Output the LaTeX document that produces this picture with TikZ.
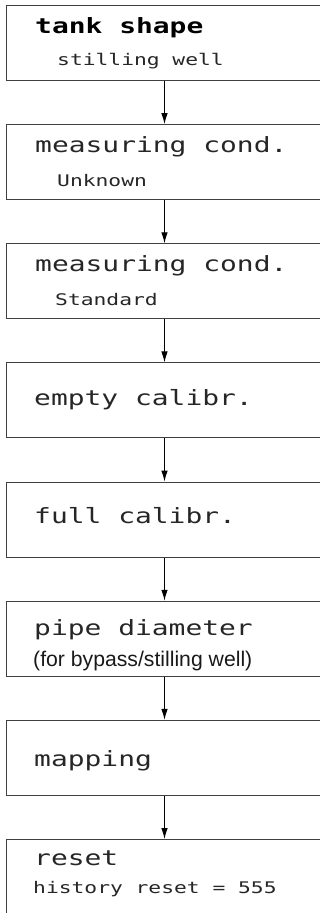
\documentclass[tikz,border=0pt]{standalone}
\usepackage{fontspec}
\usetikzlibrary{arrows.meta}
\newfontfamily\lcd[FakeStretch=1.33]{DejaVu Sans Mono}
\newfontfamily\helv{Liberation Sans}
\begin{document}
\begin{tikzpicture}[x=1pt,y=1pt,
  box/.style={draw=black!75, line width=1pt, minimum width=316pt, minimum height=75pt, anchor=north west, inner sep=0pt},
  title/.style={anchor=base west, inner sep=0pt, font=\lcd\fontsize{21}{21}\selectfont, text=black!85},
  sub/.style={anchor=base west, inner sep=0pt, font=\lcd\fontsize{16}{16}\selectfont, text=black!85},
  plain/.style={anchor=base west, inner sep=0pt, font=\helv\fontsize{21.2}{21.2}\selectfont, text=black!90},
  conn/.style={draw=black, line width=1pt, -{Latex[length=11pt,width=6.5pt]}}]
\clip (0,0) rectangle (320,-913);
\node[box] (b1) at (6,-5) {};
\node[box] (b2) at (6,-124.15) {};
\node[box] (b3) at (6,-243.3) {};
\node[box] (b4) at (6,-362.45) {};
\node[box] (b5) at (6,-481.6) {};
\node[box] (b6) at (6,-600.75) {};
\node[box] (b7) at (6,-719.9) {};
\node[box] (b8) at (6,-839.05) {};
\node[title, font=\lcd\bfseries\fontsize{21}{21}\selectfont, text=black] (t1) at (35,-33) {tank shape};
\node[sub] (s1) at (57,-65) {stilling well};
\node[title] (t2) at (35,-152) {measuring cond.};
\node[sub] (s2) at (57,-186) {Unknown};
\node[title] (t3) at (35,-271) {measuring cond.};
\node[sub] (s3) at (55,-305) {Standard};
\node[title] (t4) at (34,-405) {empty calibr.};
\node[title] (t5) at (34,-523) {full calibr.};
\node[title] (t6) at (34,-635) {pipe diameter};
\node[plain] (s6) at (33,-666) {(for bypass/stilling well)};
\node[title] (t7) at (34,-766) {mapping};
\node[title] (t8) at (34,-865) {reset};
\node[sub] (s8) at (33,-893) {history reset = 555};
\draw[conn] (b1.south) -- (b2.north);
\draw[conn] (b2.south) -- (b3.north);
\draw[conn] (b3.south) -- (b4.north);
\draw[conn] (b4.south) -- (b5.north);
\draw[conn] (b5.south) -- (b6.north);
\draw[conn] (b6.south) -- (b7.north);
\draw[conn] (b7.south) -- (b8.north);
\end{tikzpicture}
\end{document}
